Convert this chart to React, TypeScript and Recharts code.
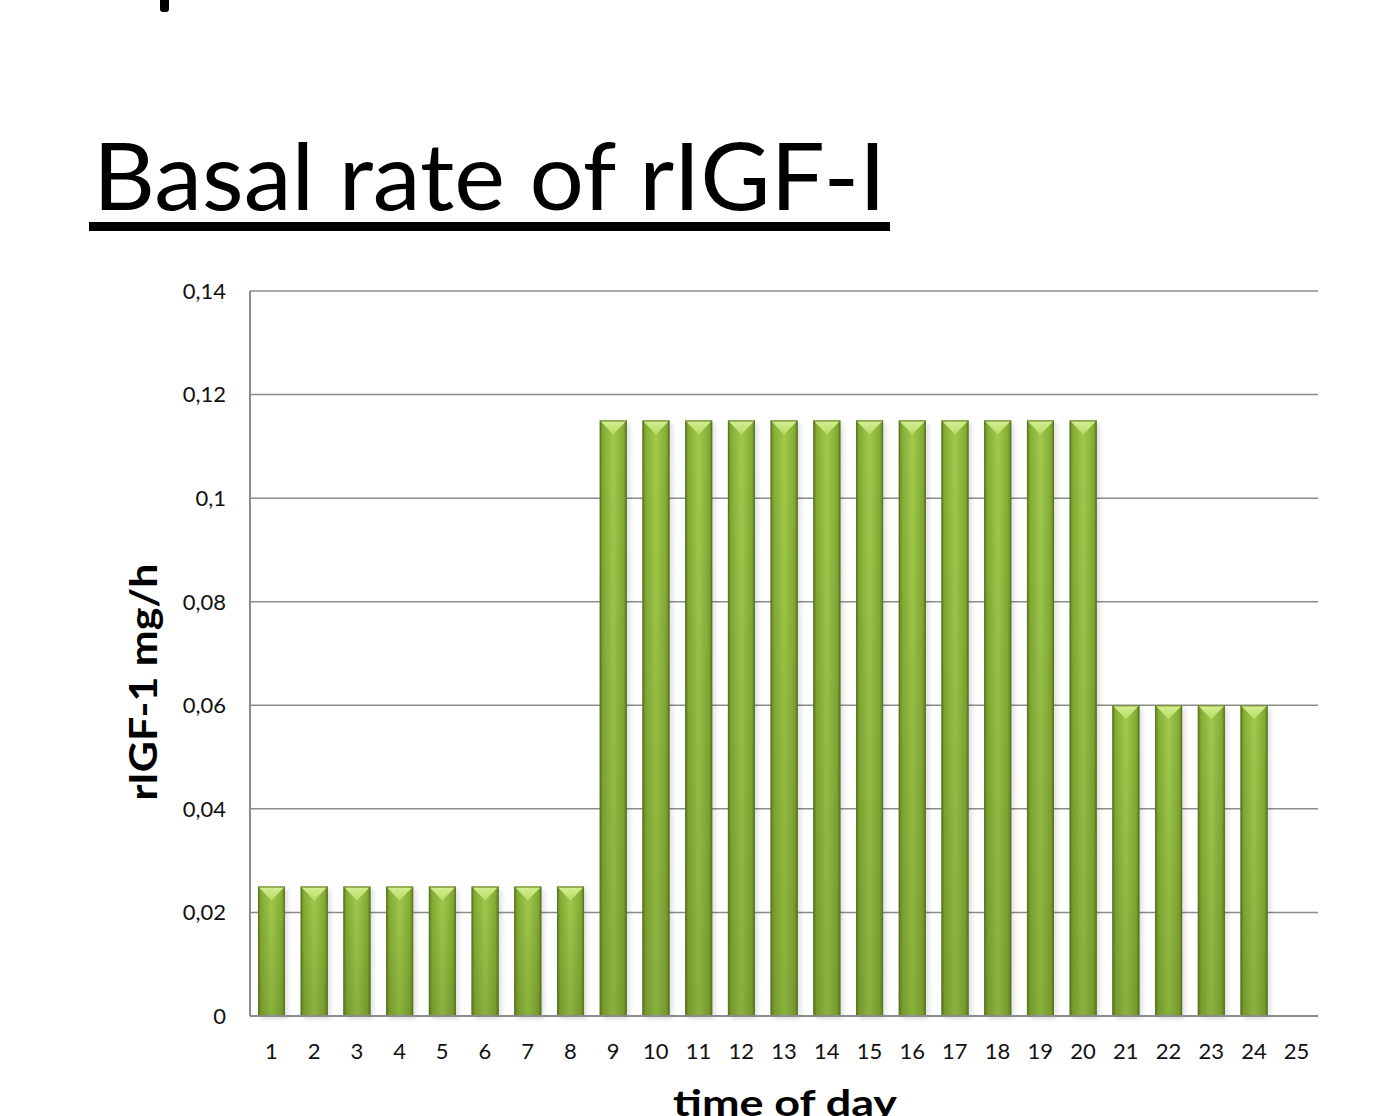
import React from 'react';
import { BarChart, Bar, XAxis, YAxis, CartesianGrid } from 'recharts';

const hours = ['1', '2', '3', '4', '5', '6', '7', '8', '9', '10', '11', '12', '13', '14', '15', '16', '17', '18', '19', '20', '21', '22', '23', '24', '25'];
const rates: (number | null)[] = [
  0.025, 0.025, 0.025, 0.025, 0.025, 0.025, 0.025, 0.025,
  0.115, 0.115, 0.115, 0.115, 0.115, 0.115, 0.115, 0.115, 0.115, 0.115, 0.115, 0.115,
  0.06, 0.06, 0.06, 0.06,
  null,
];
const yTicks = [0, 0.02, 0.04, 0.06, 0.08, 0.1, 0.12, 0.14];

const data = hours.map((h, i) => ({ hour: h, rate: rates[i] }));

const FONT = 'Lato, "Open Sans", sans-serif';

const fmt = (v: number) => String(v).replace('.', ',');

// bevelled green bar like the office chart style
function GreenBar(props: any) {
  const { x, y, width, height } = props;
  if (!height || height <= 0) return null;
  const bev = Math.min(14, height / 2);
  return (
    <g>
      <rect x={x + 3} y={y + 3} width={width} height={height} fill="#000" opacity={0.12} filter="url(#barShadow)" />
      <rect x={x} y={y} width={width} height={height} fill="url(#barBody)" />
      <rect x={x} y={y} width={width} height={height} fill="url(#barShade)" />
      <polygon
        points={`${x},${y} ${x + width},${y} ${x + width - 3},${y + 3} ${x + width / 2},${y + bev} ${x + 3},${y + 3}`}
        fill="url(#barTop)"
      />
      <rect x={x + 0.5} y={y + 0.5} width={width - 1} height={height - 1} fill="none" stroke="#5c7621" strokeWidth={1} />
    </g>
  );
}

export default function App() {
  return (
    <div style={{ position: 'fixed', left: 0, top: 0, width: 1383, height: 1116, overflow: 'hidden', background: '#fff' }}>
      <div style={{ position: 'absolute', left: 160, top: 0, width: 9, height: 12, background: '#000', borderRadius: '0 0 3px 3px' }} />
      <div style={{ position: 'absolute', left: 0, top: 0 }}>
        <BarChart
          width={1383}
          height={1116}
          data={data}
          margin={{ top: 291, right: 65, bottom: 0, left: 170 }}
          barSize={27}
        >
          <defs>
            <linearGradient id="barBody" x1="0" y1="0" x2="1" y2="0">
              <stop offset="0" stopColor="#5f7c22" />
              <stop offset="0.12" stopColor="#85ad35" />
              <stop offset="0.5" stopColor="#a0cb4c" />
              <stop offset="0.88" stopColor="#85ad35" />
              <stop offset="1" stopColor="#5f7c22" />
            </linearGradient>
            <linearGradient id="barShade" x1="0" y1="0" x2="0" y2="1">
              <stop offset="0" stopColor="#3d5410" stopOpacity={0} />
              <stop offset="1" stopColor="#3d5410" stopOpacity={0.22} />
            </linearGradient>
            <linearGradient id="barTop" x1="0" y1="0" x2="0" y2="1">
              <stop offset="0" stopColor="#d6ef92" />
              <stop offset="1" stopColor="#b6dc68" />
            </linearGradient>
            <filter id="barShadow" x="-50%" y="-10%" width="200%" height="120%">
              <feGaussianBlur stdDeviation="2.5" />
            </filter>
          </defs>
          <CartesianGrid vertical={false} stroke="#8c8c8c" strokeWidth={1.5} />
          <XAxis
            dataKey="hour"
            height={100}
            axisLine={{ stroke: '#8c8c8c', strokeWidth: 2 }}
            tickLine={false}
            tickMargin={21}
            interval={0}
            tick={{ fontFamily: FONT, fontSize: 22, fill: '#111' }}
          />
          <YAxis
            width={80}
            domain={[0, 0.14]}
            ticks={yTicks}
            tickFormatter={fmt}
            axisLine={{ stroke: '#8c8c8c', strokeWidth: 2 }}
            tickLine={false}
            tickMargin={18}
            tick={{ fontFamily: FONT, fontSize: 22, fill: '#111' }}
          />
          <Bar dataKey="rate" shape={GreenBar} isAnimationActive={false} />
        </BarChart>
      </div>
      <svg width={1383} height={1116} style={{ position: 'absolute', left: 0, top: 0, pointerEvents: 'none' }}>
        <text x={93} y={210} fontFamily={FONT} fontSize={93} fill="#000" textLength={793} lengthAdjust="spacingAndGlyphs">
          Basal rate of rIGF-I
        </text>
        <rect x={89} y={222} width={801} height={9} fill="#000" />
        <text
          x={0}
          y={0}
          transform="translate(157 682) rotate(-90)"
          textAnchor="middle"
          fontFamily={FONT}
          fontSize={38}
          fontWeight={700}
          fill="#000"
          textLength={237}
          lengthAdjust="spacingAndGlyphs"
        >
          rIGF-1 mg/h
        </text>
        <text
          x={785}
          y={1116}
          textAnchor="middle"
          fontFamily={FONT}
          fontSize={36}
          fontWeight={700}
          fill="#000"
          textLength={224}
          lengthAdjust="spacingAndGlyphs"
        >
          time of day
        </text>
      </svg>
    </div>
  );
}
